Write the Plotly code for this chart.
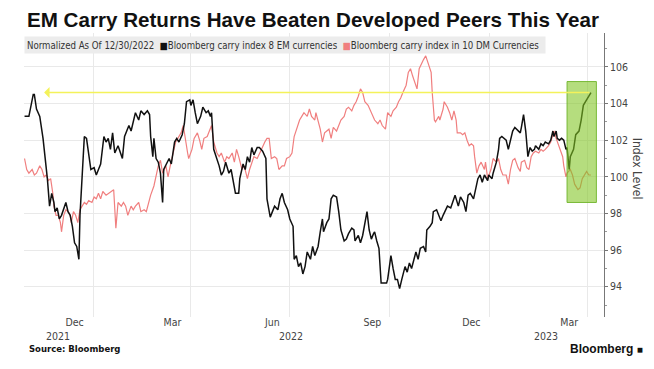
import plotly.graph_objects as go

# ---------------- data ----------------
em_dates = [
    "2021-10-30", "2021-11-03", "2021-11-07", "2021-11-08", "2021-11-10", "2021-11-13", "2021-11-16", "2021-11-18",
    "2021-11-20", "2021-11-22", "2021-11-24", "2021-11-26", "2021-11-27", "2021-11-29", "2021-12-01", "2021-12-03",
    "2021-12-06", "2021-12-07", "2021-12-09", "2021-12-11", "2021-12-13", "2021-12-15", "2021-12-17", "2021-12-19",
    "2021-12-20", "2021-12-22", "2021-12-24", "2021-12-26", "2021-12-28", "2021-12-30", "2022-01-02", "2022-01-04",
    "2022-01-06", "2022-01-08", "2022-01-11", "2022-01-13", "2022-01-15", "2022-01-17", "2022-01-19", "2022-01-21",
    "2022-01-24", "2022-01-26", "2022-01-28", "2022-01-30", "2022-02-02", "2022-02-03", "2022-02-05", "2022-02-07",
    "2022-02-09", "2022-02-12", "2022-02-14", "2022-02-17", "2022-02-20", "2022-02-22", "2022-02-23", "2022-02-25",
    "2022-02-26", "2022-02-28", "2022-03-02", "2022-03-04", "2022-03-06", "2022-03-07", "2022-03-10", "2022-03-12",
    "2022-03-14", "2022-03-17", "2022-03-19", "2022-03-21", "2022-03-24", "2022-03-26", "2022-03-28", "2022-03-31",
    "2022-04-01", "2022-04-03", "2022-04-05", "2022-04-07", "2022-04-10", "2022-04-12", "2022-04-15", "2022-04-17",
    "2022-04-19", "2022-04-20", "2022-04-22", "2022-04-25", "2022-04-27", "2022-04-29", "2022-05-01", "2022-05-03",
    "2022-05-06", "2022-05-08", "2022-05-10", "2022-05-12", "2022-05-15", "2022-05-16", "2022-05-19", "2022-05-21",
    "2022-05-23", "2022-05-25", "2022-05-27", "2022-05-29", "2022-06-01", "2022-06-03", "2022-06-06", "2022-06-09",
    "2022-06-10", "2022-06-13", "2022-06-15", "2022-06-17", "2022-06-20", "2022-06-22", "2022-06-24", "2022-06-26",
    "2022-06-29", "2022-07-01", "2022-07-04", "2022-07-05", "2022-07-07", "2022-07-09", "2022-07-11", "2022-07-13",
    "2022-07-15", "2022-07-17", "2022-07-20", "2022-07-22", "2022-07-24", "2022-07-27", "2022-07-29", "2022-07-31",
    "2022-08-01", "2022-08-04", "2022-08-06", "2022-08-08", "2022-08-10", "2022-08-13", "2022-08-15", "2022-08-17",
    "2022-08-20", "2022-08-22", "2022-08-24", "2022-08-27", "2022-08-29", "2022-08-30", "2022-09-02", "2022-09-04",
    "2022-09-06", "2022-09-08", "2022-09-10", "2022-09-12", "2022-09-14", "2022-09-16", "2022-09-17", "2022-09-19",
    "2022-09-21", "2022-09-23", "2022-09-26", "2022-09-28", "2022-09-29", "2022-10-02", "2022-10-04", "2022-10-06",
    "2022-10-08", "2022-10-10", "2022-10-12", "2022-10-15", "2022-10-17", "2022-10-19", "2022-10-21", "2022-10-23",
    "2022-10-25", "2022-10-27", "2022-10-29", "2022-11-01", "2022-11-03", "2022-11-04", "2022-11-07", "2022-11-09",
    "2022-11-10", "2022-11-13", "2022-11-15", "2022-11-17", "2022-11-19", "2022-11-21", "2022-11-23", "2022-11-26",
    "2022-11-28", "2022-11-30", "2022-12-03", "2022-12-05", "2022-12-08", "2022-12-10", "2022-12-12", "2022-12-14",
    "2022-12-17", "2022-12-19", "2022-12-21", "2022-12-23", "2022-12-25", "2022-12-27", "2022-12-30", "2022-12-31",
    "2023-01-03", "2023-01-04", "2023-01-07", "2023-01-09", "2023-01-10", "2023-01-12", "2023-01-14", "2023-01-16",
    "2023-01-18", "2023-01-20", "2023-01-22", "2023-01-24", "2023-01-26", "2023-01-29", "2023-01-30", "2023-02-01",
    "2023-02-03", "2023-02-05", "2023-02-07", "2023-02-09", "2023-02-11", "2023-02-12", "2023-02-15", "2023-02-17",
    "2023-02-19", "2023-02-21", "2023-02-24", "2023-02-26", "2023-02-28", "2023-03-01", "2023-03-03", "2023-03-04",
    "2023-03-06", "2023-03-08", "2023-03-10", "2023-03-12", "2023-03-13", "2023-03-15", "2023-03-16", "2023-03-19",
    "2023-03-21", "2023-03-23", "2023-03-24", "2023-03-26", "2023-03-28", "2023-03-30", "2023-04-02", "2023-04-04",
]
em_values = [
    103.3, 103.3, 104.5, 104.5, 103.7, 103.3, 102.1, 101.1,
    99.9, 98.4, 99.1, 98.6, 98.1, 98.3, 97.7, 97.9,
    98.4, 98.6, 98.1, 97.9, 97.3, 96.4, 96.2, 95.5,
    97.9, 100.2, 102.2, 102.1, 101.1, 100.4, 100.5, 100.1,
    100.4, 100.7, 102.2, 101.9, 102.1, 101.5, 102.4, 101.3,
    101.7, 101.3, 101.0, 102.2, 102.6, 102.8, 102.5, 103.1,
    103.5, 103.1, 103.6, 103.4, 103.6, 103.4, 102.2, 101.1,
    102.1, 101.0, 100.8, 100.2, 98.6, 100.4, 100.8, 101.0,
    100.7, 101.9, 102.1, 101.9, 102.3, 102.9, 104.1, 104.2,
    103.9, 104.2, 103.5, 102.9, 103.3, 103.8, 103.5, 103.6,
    103.3, 103.5, 101.5, 101.0, 100.6, 100.1, 100.3, 100.8,
    100.2, 100.4, 99.7, 99.1, 99.1, 99.9, 100.7, 100.4,
    101.1, 100.8, 101.6, 101.2, 101.6, 101.6, 101.4, 101.0,
    98.8, 97.8, 98.1, 98.4, 98.2, 98.8, 99.1, 98.6,
    98.2, 97.7, 97.3, 95.5, 95.7, 95.1, 95.3, 94.7,
    95.1, 95.9, 95.5, 96.2, 95.7, 96.2, 97.0, 97.7,
    97.0, 97.5, 97.7, 98.8, 99.0, 98.9, 98.1, 97.1,
    96.5, 96.6, 96.9, 97.2, 97.1, 96.5, 96.8, 96.4,
    96.8, 97.5, 98.1, 97.1, 96.6, 96.9, 97.0, 96.5,
    96.1, 94.2, 94.2, 94.2, 94.4, 95.7, 95.0, 94.4,
    94.4, 93.9, 94.4, 95.1, 94.8, 95.3, 95.0, 95.5,
    95.9, 95.5, 96.1, 96.2, 95.9, 97.1, 97.3, 97.5,
    98.1, 98.2, 97.9, 97.6, 97.9, 98.2, 98.4, 98.3,
    98.7, 99.0, 98.4, 98.9, 98.6, 98.1, 99.0, 99.1,
    98.8, 99.3, 99.9, 100.1, 99.7, 100.1, 99.8, 100.1,
    99.9, 100.2, 100.8, 101.5, 102.1, 102.2, 102.1, 102.0,
    101.5, 102.1, 102.5, 102.7, 102.6, 102.4, 102.7, 103.4,
    102.5, 101.1, 101.6, 101.4, 101.5, 101.7, 101.5, 101.8,
    101.7, 101.9, 101.8, 102.0, 102.5, 102.2, 102.5, 102.1,
    102.0, 102.1, 102.0, 101.5, 101.6, 100.4, 101.1, 101.5,
    102.3, 102.4, 102.5, 103.1, 103.9, 104.1, 104.4, 104.6,
]

dm_dates = [
    "2021-10-30", "2021-11-01", "2021-11-03", "2021-11-06", "2021-11-08", "2021-11-10", "2021-11-13", "2021-11-15",
    "2021-11-17", "2021-11-19", "2021-11-21", "2021-11-23", "2021-11-25", "2021-11-26", "2021-11-28", "2021-11-30",
    "2021-12-02", "2021-12-03", "2021-12-05", "2021-12-07", "2021-12-09", "2021-12-11", "2021-12-12", "2021-12-14",
    "2021-12-16", "2021-12-18", "2021-12-20", "2021-12-22", "2021-12-24", "2021-12-26", "2021-12-28", "2021-12-31",
    "2022-01-02", "2022-01-04", "2022-01-06", "2022-01-08", "2022-01-10", "2022-01-13", "2022-01-15", "2022-01-17",
    "2022-01-20", "2022-01-22", "2022-01-24", "2022-01-27", "2022-01-29", "2022-01-31", "2022-02-02", "2022-02-05",
    "2022-02-07", "2022-02-09", "2022-02-12", "2022-02-14", "2022-02-17", "2022-02-19", "2022-02-21", "2022-02-23",
    "2022-02-26", "2022-02-28", "2022-03-02", "2022-03-04", "2022-03-06", "2022-03-09", "2022-03-11", "2022-03-13",
    "2022-03-16", "2022-03-18", "2022-03-20", "2022-03-23", "2022-03-25", "2022-03-27", "2022-03-29", "2022-03-30",
    "2022-04-02", "2022-04-04", "2022-04-07", "2022-04-09", "2022-04-11", "2022-04-13", "2022-04-16", "2022-04-18",
    "2022-04-20", "2022-04-22", "2022-04-25", "2022-04-27", "2022-04-29", "2022-05-02", "2022-05-04", "2022-05-06",
    "2022-05-09", "2022-05-11", "2022-05-13", "2022-05-15", "2022-05-18", "2022-05-20", "2022-05-23", "2022-05-25",
    "2022-05-27", "2022-05-29", "2022-06-01", "2022-06-03", "2022-06-05", "2022-06-08", "2022-06-10", "2022-06-12",
    "2022-06-14", "2022-06-17", "2022-06-19", "2022-06-21", "2022-06-24", "2022-06-26", "2022-06-28", "2022-07-01",
    "2022-07-03", "2022-07-05", "2022-07-08", "2022-07-10", "2022-07-12", "2022-07-14", "2022-07-17", "2022-07-19",
    "2022-07-21", "2022-07-24", "2022-07-25", "2022-07-27", "2022-07-29", "2022-07-31", "2022-08-02", "2022-08-04",
    "2022-08-06", "2022-08-08", "2022-08-10", "2022-08-13", "2022-08-15", "2022-08-17", "2022-08-20", "2022-08-22",
    "2022-08-24", "2022-08-27", "2022-08-29", "2022-08-31", "2022-09-02", "2022-09-04", "2022-09-06", "2022-09-08",
    "2022-09-11", "2022-09-13", "2022-09-15", "2022-09-17", "2022-09-20", "2022-09-22", "2022-09-24", "2022-09-27",
    "2022-09-29", "2022-10-02", "2022-10-04", "2022-10-07", "2022-10-09", "2022-10-11", "2022-10-13", "2022-10-16",
    "2022-10-18", "2022-10-20", "2022-10-22", "2022-10-24", "2022-10-26", "2022-10-28", "2022-10-30", "2022-11-01",
    "2022-11-03", "2022-11-05", "2022-11-08", "2022-11-09", "2022-11-11", "2022-11-12", "2022-11-15", "2022-11-16",
    "2022-11-19", "2022-11-20", "2022-11-23", "2022-11-25", "2022-11-27", "2022-11-29", "2022-12-01", "2022-12-02",
    "2022-12-05", "2022-12-07", "2022-12-09", "2022-12-11", "2022-12-13", "2022-12-15", "2022-12-17", "2022-12-18",
    "2022-12-20", "2022-12-22", "2022-12-24", "2022-12-27", "2022-12-28", "2022-12-30", "2023-01-02", "2023-01-04",
    "2023-01-07", "2023-01-09", "2023-01-11", "2023-01-13", "2023-01-16", "2023-01-18", "2023-01-20", "2023-01-22",
    "2023-01-24", "2023-01-27", "2023-01-29", "2023-01-30", "2023-02-02", "2023-02-04", "2023-02-06", "2023-02-08",
    "2023-02-10", "2023-02-12", "2023-02-15", "2023-02-17", "2023-02-19", "2023-02-21", "2023-02-24", "2023-02-26",
    "2023-02-28", "2023-03-01", "2023-03-03", "2023-03-05", "2023-03-07", "2023-03-09", "2023-03-10", "2023-03-12",
    "2023-03-13", "2023-03-16", "2023-03-18", "2023-03-20", "2023-03-23", "2023-03-25", "2023-03-27", "2023-03-29",
    "2023-03-31", "2023-04-02", "2023-04-04",
]
dm_values = [
    101.0, 100.4, 100.2, 100.4, 100.1, 100.2, 100.6, 100.4,
    100.0, 100.1, 99.8, 99.9, 99.1, 98.4, 97.9, 97.9,
    97.5, 97.0, 97.9, 98.2, 98.1, 97.9, 97.5, 98.1,
    97.9, 97.5, 98.2, 98.4, 98.6, 98.5, 98.7, 98.6,
    98.9, 98.8, 99.1, 98.8, 99.2, 99.0, 99.1, 99.2,
    99.3, 97.2, 98.6, 98.4, 98.6, 98.4, 97.9, 98.4,
    98.2, 98.4, 98.6, 98.1, 98.2, 98.1, 98.6, 99.0,
    99.5, 100.1, 100.6, 100.9, 100.2, 100.6, 100.0, 100.6,
    101.5, 101.9, 102.1, 102.4, 102.8, 101.9, 101.3, 101.0,
    101.5, 102.1, 102.4, 102.0, 101.5, 102.1, 102.2, 102.5,
    102.8, 101.9, 101.3, 101.1, 101.3, 100.8, 101.1, 101.0,
    101.3, 100.8, 101.5, 101.1, 100.4, 100.6, 99.9, 100.4,
    100.8, 101.1, 101.0, 101.3, 101.5, 101.9, 102.1, 102.1,
    101.0, 101.1, 101.0, 100.4, 100.6, 100.6, 101.0, 101.1,
    101.3, 102.2, 102.8, 103.1, 103.3, 103.5, 103.3, 103.7,
    103.3, 103.1, 103.5, 103.0, 102.6, 101.9, 102.4, 102.5,
    102.6, 102.1, 102.7, 102.5, 102.8, 103.1, 103.3, 103.7,
    103.8, 103.6, 103.9, 104.1, 104.4, 104.8, 104.6, 104.1,
    103.9, 103.6, 103.3, 103.1, 102.9, 103.1, 102.8, 102.6,
    103.5, 103.3, 103.6, 103.8, 104.1, 104.3, 104.6, 105.0,
    105.7, 105.9, 105.5, 105.1, 104.8, 105.9, 106.2, 106.4,
    106.6, 106.2, 105.7, 104.6, 103.1, 103.0, 103.3, 103.1,
    103.7, 104.1, 103.8, 103.5, 103.1, 103.6, 103.1, 102.4,
    102.4, 102.3, 102.4, 102.0, 101.7, 101.8, 101.7, 101.1,
    100.2, 100.6, 100.8, 100.4, 100.8, 99.9, 100.4, 101.0,
    100.8, 101.0, 100.4, 100.1, 100.1, 99.6, 100.4, 100.9,
    101.0, 100.5, 100.3, 100.8, 100.9, 100.5, 100.4, 101.1,
    101.3, 101.4, 101.3, 101.5, 101.4, 101.5, 101.7, 101.9,
    102.3, 102.5, 102.1, 101.8, 101.5, 101.1, 100.6, 100.0,
    100.2, 100.4, 100.1, 99.6, 99.3, 99.4, 99.9, 100.1,
    100.3, 100.1, 100.1,
]

em_name = "Bloomberg carry index 8 EM currencies"
dm_name = "Bloomberg carry index in 10 DM Currencies"
title_text = "EM Carry Returns Have Beaten Developed Peers This Year"
legend_prefix = "Normalized As Of 12/30/2022"

month_tick_dates = ["2021-12-15", "2022-03-15", "2022-06-15", "2022-09-15", "2022-12-15", "2023-03-15"]
month_tick_labels = ["Dec", "Mar", "Jun", "Sep", "Dec", "Mar"]
year_label_dates = ["2021-11-30", "2022-07-02", "2023-02-22"]
year_labels = ["2021", "2022", "2023"]

y_tick_vals = [94, 96, 98, 100, 102, 104, 106]

arrow_tip_date = "2021-11-17"          # yellow arrow points back to the Nov-2021 peak
box_dates = ["2023-03-13", "2023-04-09"]  # highlighted recent rally
box_levels = [98.6, 105.2]

x_range = ["2021-10-29 12:00", "2023-04-16"]
y_range = [92.35, 107.85]

EM_COLOR = "#111111"
DM_COLOR = "#f07f7f"
GRID = "#e9e9e9"
TXT = "#444444"
NARROW = "Liberation Sans Narrow, DejaVu Sans Condensed, Arial Narrow, Liberation Sans, sans-serif"

fig = go.Figure()
fig.add_trace(go.Scatter(x=dm_dates, y=dm_values, mode="lines", name=dm_name,
                         line=dict(color=DM_COLOR, width=1.2)))
fig.add_trace(go.Scatter(x=em_dates, y=em_values, mode="lines", name=em_name,
                         line=dict(color=EM_COLOR, width=1.5)))

# highlight box (above the lines, semi-transparent)
fig.add_shape(type="rect", xref="x", yref="y",
              x0=box_dates[0], x1=box_dates[1], y0=box_levels[0], y1=box_levels[1],
              fillcolor="rgba(128,196,32,0.58)", line=dict(color="rgba(110,180,40,0.9)", width=1),
              layer="above")

annotations = []
# yellow arrow at level of the latest EM reading
annotations.append(dict(x=arrow_tip_date, y=em_values[-1], xref="x", yref="y",
                        ax=em_dates[-1], ay=em_values[-1], axref="x", ayref="y",
                        showarrow=True, arrowhead=1, arrowsize=1.3, arrowwidth=1.4,
                        arrowcolor="#f4f25a", text=""))

# title
annotations.append(dict(x=0.0017, y=1.046, xref="paper", yref="paper", xanchor="left", yanchor="middle",
                        text="<b>" + title_text + "</b>", showarrow=False,
                        font=dict(family="Liberation Sans, Arial, sans-serif", size=20.6, color="#111111")))
# legend strip
legend_html = (legend_prefix + "  <span style='color:#111111'>■</span>" + em_name +
               "  <span style='color:" + DM_COLOR + "'>■</span>" + dm_name)
annotations.append(dict(x=0, y=0.9595, xref="paper", yref="paper", xanchor="left", yanchor="middle",
                        text=legend_html, showarrow=False, align="left",
                        bgcolor="#ececec", borderpad=2, width=516, height=12,
                        font=dict(family=NARROW, size=9.6, color="#333333")))
# year labels
for d, t in zip(year_label_dates, year_labels):
    annotations.append(dict(x=d, y=-0.066, xref="x", yref="paper", xanchor="center", yanchor="middle",
                            text=t, showarrow=False, font=dict(family=NARROW, size=10.5, color=TXT)))
# y-axis title
annotations.append(dict(x=1.056, y=0.52, xref="paper", yref="paper", xanchor="center", yanchor="middle",
                        text="Index Level", textangle=90, showarrow=False,
                        font=dict(family=NARROW, size=12, color=TXT)))
# source and logo
annotations.append(dict(x=0.005, y=-0.113, xref="paper", yref="paper", xanchor="left", yanchor="middle",
                        text="<b>Source: Bloomberg</b>", showarrow=False,
                        font=dict(family="DejaVu Sans, sans-serif", size=8.5, color="#111111")))
annotations.append(dict(x=1.0707, y=-0.113, xref="paper", yref="paper", xanchor="right", yanchor="middle",
                        text="<b>Bloomberg</b> <span style='font-size:10px'>■</span>", showarrow=False,
                        font=dict(family="Liberation Sans, Arial, sans-serif", size=12, color="#111111")))

# The page body has an 8px default margin, so the figure is 8px smaller
# on each axis and its margins are reduced by 8px on the left and top.
fig.update_layout(
    width=646, height=361,
    margin=dict(l=16, r=50, t=25, b=52, autoexpand=False),
    paper_bgcolor="white", plot_bgcolor="white",
    showlegend=False,
    annotations=annotations,
    xaxis=dict(
        type="date", range=x_range, automargin=False,
        tickmode="array", tickvals=month_tick_dates, ticktext=month_tick_labels,
        showgrid=False, ticks="", showline=False, zeroline=False,
        ticklabelstandoff=-3,
        tickfont=dict(family=NARROW, size=10.5, color=TXT),
        minor=dict(tick0="2021-10-01", dtick="M3", showgrid=True, gridcolor=GRID, gridwidth=1, ticks=""),
    ),
    yaxis=dict(
        side="right", range=y_range, automargin=False,
        tickmode="array", tickvals=y_tick_vals,
        showgrid=True, gridcolor=GRID, gridwidth=1, zeroline=False,
        showline=True, linecolor="#777777", linewidth=1,
        ticks="outside", ticklen=3, tickcolor="#777777",
        tickfont=dict(family=NARROW, size=10.5, color=TXT),
        minor=dict(dtick=1, ticks="outside", ticklen=2, tickcolor="#999999", showgrid=False),
    ),
)

fig.write_html("out.html")
